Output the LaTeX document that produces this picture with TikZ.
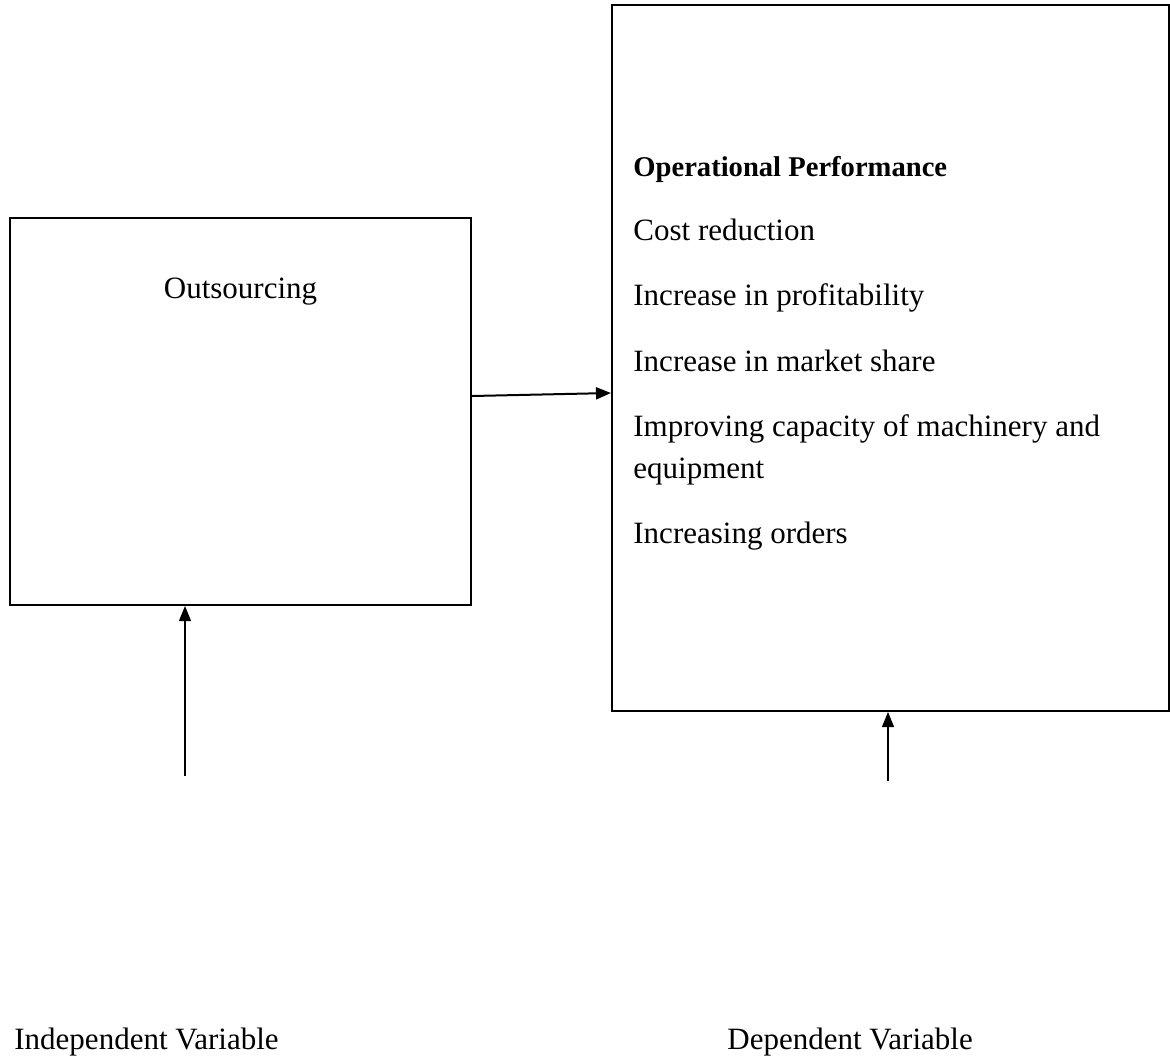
\documentclass[tikz,border=0pt]{standalone}
\usepackage{fontspec}
\setmainfont{Liberation Serif}
\usetikzlibrary{positioning,arrows.meta}
\tikzset{
  varbox/.style={rectangle, draw, line width=1pt, inner sep=0pt},
  item/.style={anchor=base west, inner sep=0pt},
  varlabel/.style={anchor=base west, inner sep=0pt},
  conn/.style={-{Triangle[length=7.5pt,width=6pt]}, line width=0.6pt}
}
\begin{document}
\begin{tikzpicture}[x=0.5pt, y=-0.5pt, font=\fontsize{15.5pt}{21pt}\selectfont]
  \useasboundingbox (0,0) rectangle (1170,1061);
  % boxes
  \node [varbox, minimum width=230.5pt, minimum height=193.5pt] (outs) at (240.5,411.5) {};
  \node [varbox, minimum width=278.5pt, minimum height=353pt] (perf) at (890.5,358) {};
  \node [anchor=base, inner sep=0pt] (outsText) at (240.5,298) {Outsourcing};
  % items of the dependent variable
  \node [item, font=\fontsize{14.3pt}{19pt}\selectfont\bfseries] (opHead) at (633,176) {Operational Performance};
  \node [item] (cost) at (633,240) {Cost reduction};
  \node [item] (profit) at (633,305) {Increase in profitability};
  \node [item] (share) at (633,371) {Increase in market share};
  \node [item] (capacity) at (633,436) {Improving capacity of machinery and};
  \node [item] (equip) at (633,478) {equipment};
  \node [item] (orders) at (633,543) {Increasing orders};
  % connectors
  \coordinate (indepFoot) at (185,776);
  \coordinate (depFoot) at (888,781);
  \draw [conn, line width=1pt] ([yshift=7.75pt]outs.east) -- ([yshift=-17.5pt]perf.west);
  \draw [conn] (indepFoot) -- (indepFoot |- outs.south);
  \draw [conn] (depFoot) -- (depFoot |- perf.south);
  % labels
  \node [varlabel] (indepLabel) at (14,1049) {Independent Variable};
  \node [varlabel] (depLabel) at (727,1049) {Dependent Variable};
\end{tikzpicture}
\end{document}
